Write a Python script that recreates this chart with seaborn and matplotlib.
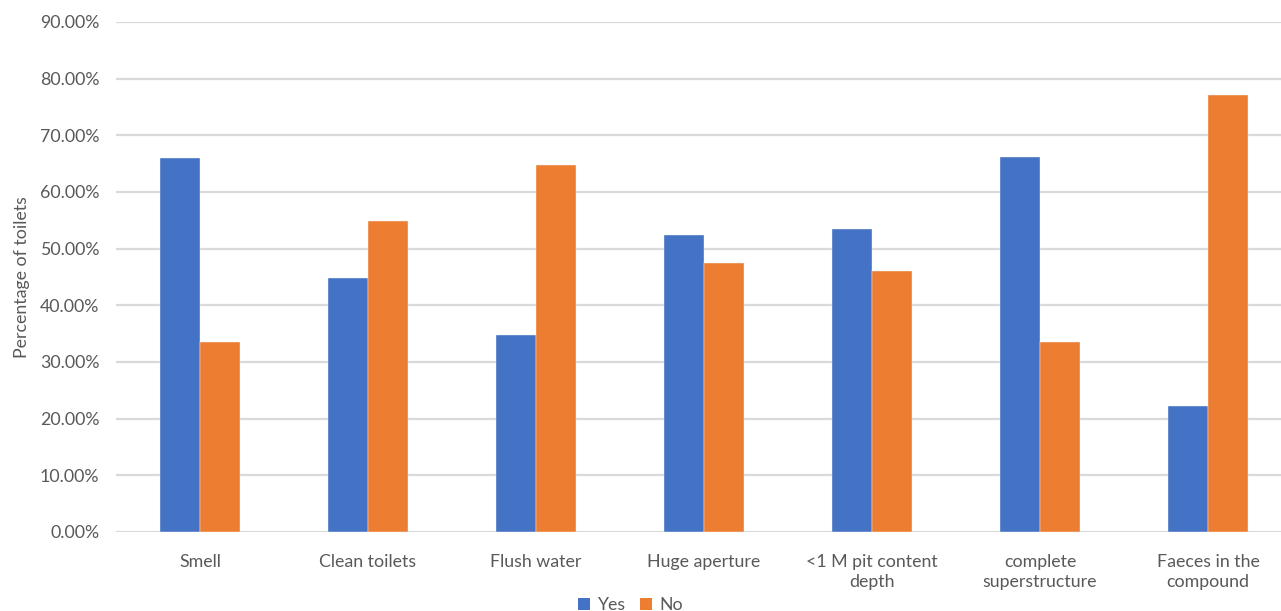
import matplotlib
matplotlib.use("Agg")
import matplotlib.pyplot as plt
from matplotlib.ticker import PercentFormatter, MultipleLocator
from matplotlib.patches import Patch
import seaborn as sns
import pandas as pd

categories = ["Smell", "Clean toilets", "Flush water", "Huge aperture",
              "<1 M pit content\ndepth", "complete\nsuperstructure",
              "Faeces in the\ncompound"]
yes_values = [0.660, 0.448, 0.348, 0.524, 0.535, 0.662, 0.222]
no_values = [0.336, 0.548, 0.648, 0.474, 0.461, 0.335, 0.772]
series_names = ["Yes", "No"]
colors = ["#4472C4", "#ED7D31"]

df = pd.DataFrame({
    "category": categories * 2,
    "value": yes_values + no_values,
    "series": [series_names[0]] * len(categories) + [series_names[1]] * len(categories),
})

sns.set_theme(style="white")
plt.rcParams["font.family"] = ["Lato", "DejaVu Sans"]
text_color = "#595959"

fig = plt.figure(figsize=(12.81, 6.11), dpi=100)
ax = fig.add_axes([116 / 1281, 79 / 611, 1176 / 1281, 510 / 611])

sns.barplot(data=df, x="category", y="value", hue="series", order=categories,
            hue_order=series_names, palette=colors, width=0.476, gap=0,
            saturation=1, edgecolor="#f4f6fb", linewidth=0.3, ax=ax, legend=False)

ax.set_ylim(0, 0.9)
ax.set_xlim(-0.5, len(categories) - 0.5)
ax.yaxis.set_major_locator(MultipleLocator(0.1))
ax.yaxis.set_major_formatter(PercentFormatter(1.0, decimals=2))
ax.grid(axis="y", color="#d9d9d9", linewidth=1.6)
ax.set_axisbelow(True)
for s in ax.spines.values():
    s.set_visible(False)

ax.tick_params(axis="both", length=0, labelsize=12.8, colors=text_color)
ax.tick_params(axis="y", pad=12)
ax.tick_params(axis="x", pad=16)
for lbl in ax.get_xticklabels():
    lbl.set_linespacing(1.3)
ax.set_xlabel("")
ax.set_ylabel("Percentage of toilets", fontsize=12.8, color=text_color)
ax.yaxis.set_label_coords(-86 / 1176, 0.5)

handles = [Patch(facecolor=c, edgecolor="none", label=n) for c, n in zip(colors, series_names)]
fig.legend(handles=handles, loc="lower center", bbox_to_anchor=(0.492, -0.03),
           ncol=2, frameon=False, fontsize=12.8, handlelength=0.7, handleheight=0.7,
           handletextpad=0.4, columnspacing=0.8, labelcolor=text_color)

fig.savefig("out.png", dpi=100)
